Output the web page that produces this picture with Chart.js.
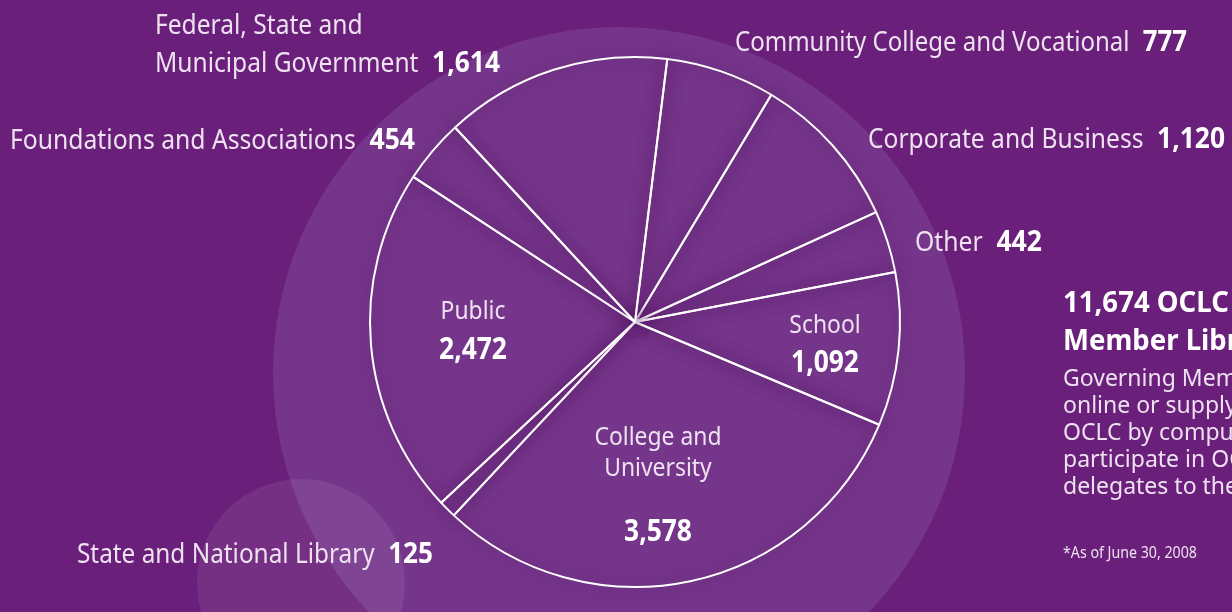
<!DOCTYPE html>
<html>
<head>
<meta charset="utf-8">
<title>OCLC Member Libraries</title>
<script src="https://cdn.jsdelivr.net/npm/chart.js@4"></script>
<style>
  html, body { margin: 0; padding: 0; background: #6a1f7a; overflow: hidden; }
  canvas { display: block; }
</style>
</head>
<body>
<canvas id="memberChart" width="1232" height="612"></canvas>
<script>
// slices run clockwise, starting just right of 12 o'clock
const categories = [
  'Community College and Vocational',
  'Corporate and Business',
  'Other',
  'School',
  'College and University',
  'State and National Library',
  'Public',
  'Foundations and Associations',
  'Federal, State and Municipal Government'
];
const memberCounts = [777, 1120, 442, 1092, 3578, 125, 2472, 454, 1614];

// how each name is broken into lines on the chart
const labelLines = [
  ['Community College and Vocational'],
  ['Corporate and Business'],
  ['Other'],
  ['School'],
  ['College and', 'University'],
  ['State and National Library'],
  ['Public'],
  ['Foundations and Associations'],
  ['Federal, State and', 'Municipal Government']
];

const totalMembers = 11674;
const titleLines = [totalMembers.toLocaleString('en-US') + ' OCLC Governing', 'Member Libraries*'];
const bodyLines = [
  'Governing Members catalog',
  'online or supply records to',
  'OCLC by computer tape and',
  'participate in OCLC governance',
  'delegates to the Global Council.'
];
const footnote = '*As of June 30, 2008';

// where the labels sit (outside ones: left x, baseline, full width; inside ones: centre x)
const labelPos = [
  { x: 735, y: 51, w: 452 },
  { x: 868, y: 148, w: 357 },
  { x: 915, y: 251, w: 127 },
  { cx: 825, y: 333, gap: 39 },
  { cx: 658, y: 445, lh: 31, gap: 65 },
  { x: 77, y: 563, w: 356 },
  { cx: 473, y: 319, gap: 40 },
  { x: 10, y: 149, w: 405 },
  { x: 155, y: 72, w: 345, lh: 38 }
];

const FONT = '"Noto Sans", "Open Sans", sans-serif';
const labelColor = '#eee2f1';

const fmt = n => n.toLocaleString('en-US');

const backdrop = {
  id: 'backdrop',
  beforeDraw(chart) {
    const ctx = chart.ctx;
    ctx.save();
    ctx.fillStyle = '#6a1f7a';
    ctx.fillRect(0, 0, chart.width, chart.height);
    ctx.fillStyle = '#75358a';
    ctx.beginPath();
    ctx.arc(619, 373, 346, 0, Math.PI * 2);
    ctx.fill();
    ctx.fillStyle = 'rgba(255,255,255,0.08)';
    ctx.beginPath();
    ctx.arc(301, 583, 104, 0, Math.PI * 2);
    ctx.fill();
    ctx.restore();
  },
  beforeDatasetDraw(chart) {
    const ctx = chart.ctx;
    ctx.save();
    ctx.shadowColor = 'rgba(75,15,90,0.7)';
    ctx.shadowBlur = 16;
  },
  afterDatasetDraw(chart) {
    chart.ctx.restore();
  }
};

function scaledText(ctx, text, x, y, sx) {
  ctx.save();
  ctx.translate(x, y);
  ctx.scale(sx, 1);
  ctx.fillText(text, 0, 0);
  ctx.restore();
}

const sliceLabels = {
  id: 'sliceLabels',
  afterDraw(chart) {
    const ctx = chart.ctx;
    const regular = '27px ' + FONT;
    const bold = 'bold 29px ' + FONT;
    const gap = 15;
    ctx.save();
    ctx.textBaseline = 'alphabetic';
    labelPos.forEach((p, i) => {
      const lines = labelLines[i];
      const num = fmt(memberCounts[i]);
      if (p.cx !== undefined) {
        // inside the pie, centred
        const sx = 0.88;
        ctx.textAlign = 'center';
        let y = p.y;
        ctx.font = '26px ' + FONT;
        ctx.fillStyle = labelColor;
        lines.forEach((ln, k) => {
          scaledText(ctx, ln, p.cx, y, sx);
          if (k < lines.length - 1) y += p.lh;
        });
        y += p.gap;
        ctx.font = 'bold 30px ' + FONT;
        ctx.fillStyle = '#ffffff';
        scaledText(ctx, num, p.cx, y, sx);
        return;
      }
      // outside: name then bold count on the last line
      ctx.textAlign = 'left';
      const last = lines[lines.length - 1];
      ctx.font = regular;
      const wl = ctx.measureText(last).width;
      ctx.font = bold;
      const wn = ctx.measureText(num).width;
      const sx = p.w / (wl + gap + wn);
      const y0 = p.y - (lines.length - 1) * (p.lh || 0);
      lines.forEach((ln, k) => {
        ctx.save();
        ctx.translate(p.x, y0 + k * (p.lh || 0));
        ctx.scale(sx, 1);
        ctx.font = regular;
        ctx.fillStyle = labelColor;
        ctx.fillText(ln, 0, 0);
        if (k === lines.length - 1) {
          ctx.font = bold;
          ctx.fillStyle = '#ffffff';
          ctx.fillText(num, wl + gap, 0);
        }
        ctx.restore();
      });
    });

    // side note
    ctx.textAlign = 'left';
    ctx.fillStyle = '#ffffff';
    ctx.font = 'bold 29px ' + FONT;
    titleLines.forEach((t, k) => scaledText(ctx, t, 1063, 312 + k * 38, 0.95));
    ctx.fillStyle = labelColor;
    ctx.font = '23px ' + FONT;
    bodyLines.forEach((t, k) => scaledText(ctx, t, 1063, 386 + k * 27, 1.0));
    ctx.font = '16px ' + FONT;
    scaledText(ctx, footnote, 1063, 558, 134 / ctx.measureText(footnote).width);
    ctx.restore();
  }
};

const memberChart = document.getElementById('memberChart');

new Chart(memberChart, {
  type: 'pie',
  data: {
    labels: categories,
    datasets: [{
      data: memberCounts,
      backgroundColor: 'rgba(0,0,0,0)',
      borderColor: '#ffffff',
      borderWidth: 2,
      hoverOffset: 0
    }]
  },
  options: {
    responsive: false,
    animation: false,
    rotation: 7,
    layout: {
      padding: { left: 369, right: 331, top: 56, bottom: 24 }
    },
    plugins: {
      legend: { display: false },
      tooltip: { enabled: false },
      title: { display: false }
    },
    events: []
  },
  plugins: [backdrop, sliceLabels]
});
</script>
</body>
</html>
